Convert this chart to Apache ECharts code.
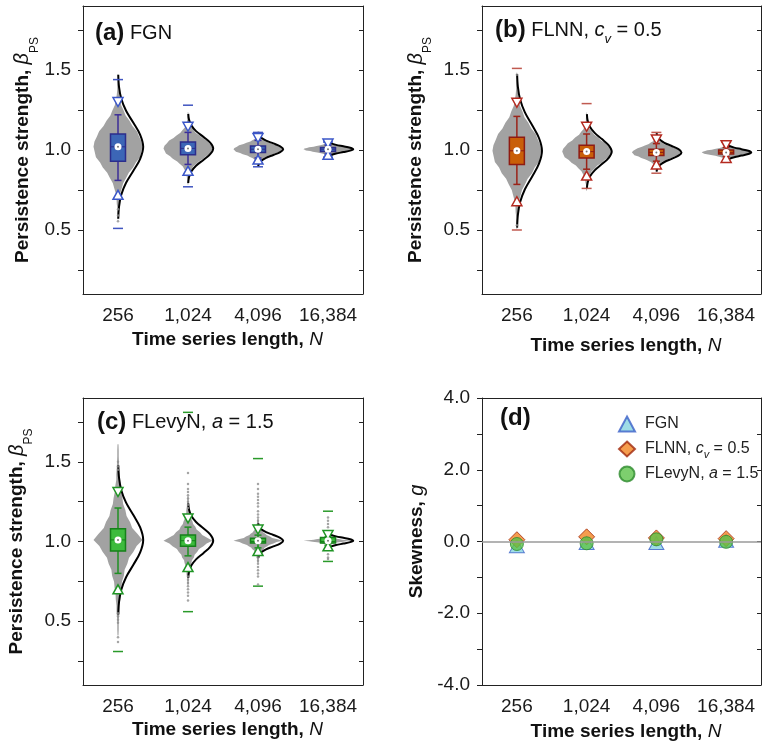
<!DOCTYPE html>
<html>
<head>
<meta charset="utf-8">
<script src="https://cdn.jsdelivr.net/npm/echarts@6/dist/echarts.min.js"></script>
<style>
  html, body { margin: 0; padding: 0; background: #fff; }
  #chart { width: 762px; height: 745px; }
</style>
</head>
<body>
<div id="chart"></div>
<script>
var FONT = "'Liberation Sans', Arial, Helvetica, sans-serif";

var categories = ['256', '1,024', '4,096', '16,384'];

// per length: [min, p1 (up triangle), low whisker, Q1, median, Q3, high whisker, p99 (down triangle), max, mean]
var fgnStats = [
    [0.51, 0.72, 0.81, 0.93, 1.02, 1.10, 1.22, 1.30, 1.44, 1.02],
    [0.77, 0.87, 0.91, 0.97, 1.01, 1.05, 1.11, 1.145, 1.28, 1.01],
    [0.895, 0.94, 0.95, 0.985, 1.005, 1.025, 1.06, 1.075, 1.11, 1.005],
    [0.955, 0.97, 0.975, 0.99, 1.005, 1.015, 1.03, 1.04, 1.05, 1.005]
];
var flnnStats = [
    [0.50, 0.68, 0.785, 0.91, 0.995, 1.08, 1.21, 1.295, 1.51, 0.995],
    [0.76, 0.84, 0.88, 0.95, 0.99, 1.03, 1.10, 1.145, 1.29, 0.99],
    [0.855, 0.91, 0.93, 0.965, 0.985, 1.005, 1.04, 1.065, 1.11, 0.985],
    [0.925, 0.95, 0.96, 0.975, 0.985, 1.0, 1.015, 1.03, 1.05, 0.985]
];
var flevyStats = [
    [0.31, 0.70, 0.80, 0.94, 1.01, 1.08, 1.21, 1.31, null, 1.01],
    [0.56, 0.84, 0.91, 0.97, 1.005, 1.04, 1.09, 1.145, 1.81, 1.005],
    [0.72, 0.94, 0.96, 0.99, 1.0, 1.02, 1.04, 1.075, 1.52, 1.005],
    [0.875, 0.97, 0.975, 0.99, 1.0, 1.025, 1.03, 1.04, 1.19, 1.005]
];

// spread of the grey histogram and sd of the fitted normal curve
var fgnHistSpread = [0.13, 0.065, 0.032, 0.016];
var fgnCurveSd = [0.15, 0.072, 0.036, 0.018];
var flnnHistSpread = [0.14, 0.07, 0.035, 0.017];
var flnnCurveSd = [0.16, 0.078, 0.04, 0.02];
var flevyHistSpread = [0.15, 0.07, 0.035, 0.012];
var flevyCurveSd = [0.156, 0.078, 0.036, 0.018];

// relative half widths, quarter spread steps
var normalHistShape = [0.01, 0.03, 0.02, 0.05, 0.06, 0.09, 0.15, 0.21, 0.33, 0.44, 0.62, 0.73, 0.90, 0.95, 1.00,
    0.96, 0.86, 0.77, 0.59, 0.47, 0.31, 0.23, 0.13, 0.09, 0.05, 0.03, 0.03, 0.01, 0.01];
var levyHistShape = [0.02, 0.03, 0.03, 0.04, 0.06, 0.06, 0.09, 0.10, 0.14, 0.16, 0.24, 0.27, 0.38, 0.45, 0.63, 0.76, 1.00,
    0.80, 0.58, 0.49, 0.35, 0.30, 0.21, 0.18, 0.13, 0.11, 0.07, 0.07, 0.05, 0.04, 0.03, 0.03, 0.02];
// normal curve, half sd steps
var curveShape = [0.01, 0.04, 0.13, 0.32, 0.61, 0.88, 1.00, 0.88, 0.61, 0.32, 0.13, 0.04, 0.01];

// single outlying estimates [length index, value]
var fgnOutliers = [[0, 0.63], [0, 0.59], [0, 0.555]];
var flnnOutliers = [[0, 0.53], [0, 1.47]];
var flevyOutliers = [
    [0, 1.50], [0, 1.47], [0, 1.45], [0, 0.55], [0, 0.53], [0, 0.51], [0, 0.49], [0, 0.40], [0, 0.37],
    [1, 1.43], [1, 1.36], [1, 1.33], [1, 1.31], [1, 1.29], [1, 1.27], [1, 1.25], [1, 1.23], [1, 1.21],
    [1, 0.78], [1, 0.76], [1, 0.74], [1, 0.72], [1, 0.70], [1, 0.68], [1, 0.66], [1, 0.63],
    [2, 1.36], [2, 1.33], [2, 1.30], [2, 1.28], [2, 1.26], [2, 1.24], [2, 1.22], [2, 1.19], [2, 1.17], [2, 1.15], [2, 1.13],
    [2, 0.90], [2, 0.88], [2, 0.86], [2, 0.84], [2, 0.82], [2, 0.80], [2, 0.78], [2, 0.73],
    [3, 1.15], [3, 1.13], [3, 1.11], [3, 1.09], [3, 0.92], [3, 0.90], [3, 0.89]
];

// skewness g
var skewFgn = [-0.13, -0.04, -0.04, 0.02];
var skewFlnn = [0.05, 0.13, 0.10, 0.08];
var skewFlevy = [-0.07, -0.05, 0.06, -0.01];

var betaTicks = [0.25, 0.5, 0.75, 1.0, 1.25, 1.5, 1.75];
var betaLabels = [0.5, 1.0, 1.5];

var fgnLook = { box: '#3c66b6', edge: '#2b2d8c', whisker: '#3b2d96', tri: '#3a56c8', cap: '#4055c0' };
var flnnLook = { box: '#c95f08', edge: '#8e1b12', whisker: '#9a2318', tri: '#b42a20', cap: '#c05a50' };
var flevyLook = { box: '#3dbb3d', edge: '#16801a', whisker: '#1f8f22', tri: '#1f9424', cap: '#2a9a2a' };

function violinData(stats, histSpread, curveSd) {
    return stats.map(function (s, i) {
        return [i].concat(s, [histSpread[i], curveSd[i]]);
    });
}

function violinRenderer(look, histShape) {
    return function (params, api) {
        var cat = api.value(0);
        var mean = api.value(10);
        var band = api.size([1, 0])[0];
        var cx = api.coord([cat, mean])[0];
        function py(v) { return api.coord([cat, v])[1]; }
        function hline(y, half, color, w) {
            return { type: 'line', shape: { x1: cx - half, y1: y, x2: cx + half, y2: y }, style: { stroke: color, lineWidth: w } };
        }
        var kids = [];

        var hs = api.value(11);
        var mid = (histShape.length - 1) / 2;
        var lhs = [], rhs = [];
        for (var i = 0; i < histShape.length; i++) {
            var yy = py(mean + (i - mid) * 0.25 * hs);
            var hw = histShape[i] * 0.35 * band;
            lhs.push([cx - hw, yy]);
            rhs.unshift([cx + hw, yy]);
        }
        kids.push({ type: 'polygon', shape: { points: lhs.concat(rhs) }, style: { fill: '#a2a2a2' } });

        var sd = api.value(12);
        var cmid = (curveShape.length - 1) / 2;
        var pts = [];
        for (var j = 0; j < curveShape.length; j++) {
            pts.push([cx + curveShape[j] * 0.36 * band, py(mean + (j - cmid) * 0.5 * sd)]);
        }
        kids.push({ type: 'polyline', shape: { points: pts, smooth: 0.35 }, style: { stroke: '#000', lineWidth: 2, fill: null } });

        var yP1 = py(api.value(2)), yWl = py(api.value(3)), yQ1 = py(api.value(4)), yMed = py(api.value(5));
        var yQ3 = py(api.value(6)), yWh = py(api.value(7)), yP99 = py(api.value(8)), yMean = py(mean);

        [api.value(1), api.value(9)].forEach(function (v) {
            if (isFinite(v)) kids.push(hline(py(v), 5, look.cap, 1.5));
        });
        kids.push({ type: 'line', shape: { x1: cx, y1: yQ3, x2: cx, y2: yWh }, style: { stroke: look.whisker, lineWidth: 1.5 } });
        kids.push({ type: 'line', shape: { x1: cx, y1: yQ1, x2: cx, y2: yWl }, style: { stroke: look.whisker, lineWidth: 1.5 } });
        kids.push(hline(yWh, 3.5, look.whisker, 1.5));
        kids.push(hline(yWl, 3.5, look.whisker, 1.5));
        kids.push({ type: 'rect', shape: { x: cx - 7.5, y: yQ3, width: 15, height: yQ1 - yQ3 },
            style: { fill: look.box, stroke: look.edge, lineWidth: 1.5 } });
        kids.push(hline(yMed, 7.5, look.edge, 1));
        kids.push({ type: 'polygon', shape: { points: [[cx - 5, yP99 - 4.5], [cx + 5, yP99 - 4.5], [cx, yP99 + 4.5]] },
            style: { fill: '#fff', stroke: look.tri, lineWidth: 1.5 } });
        kids.push({ type: 'polygon', shape: { points: [[cx - 5, yP1 + 4.5], [cx + 5, yP1 + 4.5], [cx, yP1 - 4.5]] },
            style: { fill: '#fff', stroke: look.tri, lineWidth: 1.5 } });
        kids.push({ type: 'circle', shape: { cx: cx, cy: yMean, r: 3.5 }, style: { fill: '#fff' } });
        kids.push({ type: 'circle', shape: { cx: cx, cy: yMean, r: 1 }, style: { fill: '#777' } });
        return { type: 'group', children: kids };
    };
}

var grids = [
    { left: 83, top: 6, width: 280, height: 288 },
    { left: 482, top: 6, width: 279, height: 288 },
    { left: 83, top: 398, width: 280, height: 287 },
    { left: 482, top: 398, width: 279, height: 287 }
];
var xNameGaps = [35, 41, 34, 36];
var yNameGaps = [41, 48, 48, 47];

var lineStyle = { color: '#222', width: 1 };
var xNameRich = {
    b: { fontSize: 19, fontWeight: 'bold', fontFamily: FONT, color: '#111', lineHeight: 22 },
    i: { fontSize: 19, fontStyle: 'italic', fontWeight: 'normal', fontFamily: FONT, color: '#111', lineHeight: 22 }
};
var yNameRich = {
    b: { fontSize: 19, fontWeight: 'bold', fontFamily: FONT, color: '#111', lineHeight: 36 },
    g: { fontSize: 20, fontStyle: 'italic', fontWeight: 'normal', fontFamily: FONT, color: '#111', lineHeight: 36 },
    s: { fontSize: 12, fontWeight: 'normal', fontFamily: FONT, color: '#111', lineHeight: 12, verticalAlign: 'bottom' }
};

var xAxes = [], yAxes = [];
grids.forEach(function (g, i) {
    xAxes.push({
        type: 'category', gridIndex: i, data: categories, position: 'bottom',
        axisLine: { onZero: false, lineStyle: lineStyle },
        axisTick: { alignWithLabel: true, length: 5, lineStyle: lineStyle },
        axisLabel: { interval: 0, margin: 12, fontSize: 19, color: '#1a1a1a', fontFamily: FONT },
        name: '{b|Time series length, }{i|N}', nameLocation: 'middle', nameGap: xNameGaps[i],
        nameTextStyle: { rich: xNameRich, padding: [0, 0, 0, 9] }
    });
    xAxes.push({
        type: 'category', gridIndex: i, data: categories, position: 'top',
        axisLine: { onZero: false, lineStyle: lineStyle },
        axisTick: { alignWithLabel: true, inside: true, length: 4, lineStyle: lineStyle },
        axisLabel: { show: false }
    });
    var isSkew = i === 3;
    var left = {
        type: 'value', gridIndex: i, position: 'left',
        axisLine: { show: true, onZero: false, lineStyle: lineStyle },
        splitLine: { show: false },
        nameLocation: 'middle', nameRotate: 90, nameGap: yNameGaps[i],
        nameTextStyle: { rich: yNameRich }
    };
    var right = {
        type: 'value', gridIndex: i, position: 'right',
        axisLine: { show: true, onZero: false, lineStyle: lineStyle },
        axisLabel: { show: false }, splitLine: { show: false }
    };
    if (isSkew) {
        left.min = right.min = -4;
        left.max = right.max = 4;
        left.interval = right.interval = 1;
        left.axisTick = { show: true, length: 5, lineStyle: lineStyle };
        right.axisTick = { show: true, inside: true, length: 4, lineStyle: lineStyle };
        left.axisLabel = {
            margin: 12, fontSize: 19, color: '#1a1a1a', fontFamily: FONT,
            formatter: function (v) { return v % 2 === 0 ? v.toFixed(1) : ''; }
        };
        left.name = '{b|Skewness, }{g|g}';
    } else {
        left.min = right.min = 0.1;
        left.max = right.max = 1.9;
        left.axisTick = { show: true, length: 5, lineStyle: lineStyle, customValues: betaTicks };
        right.axisTick = { show: true, inside: true, length: 4, lineStyle: lineStyle, customValues: betaTicks };
        left.axisLabel = {
            margin: 12, fontSize: 19, color: '#1a1a1a', fontFamily: FONT, customValues: betaLabels,
            formatter: function (v) { return v.toFixed(1); }
        };
        left.name = '{b|Persistence strength, }{g|β}{s|PS}';
    }
    yAxes.push(left, right);
});

var titleRich = {
    p: { fontSize: 24, fontWeight: 'bold', fontFamily: FONT, color: '#111', lineHeight: 32 },
    t: { fontSize: 20, fontWeight: 'normal', fontFamily: FONT, color: '#111', lineHeight: 32 },
    i: { fontSize: 20, fontStyle: 'italic', fontWeight: 'normal', fontFamily: FONT, color: '#111', lineHeight: 32 },
    s: { fontSize: 13, fontStyle: 'italic', fontWeight: 'normal', fontFamily: FONT, color: '#111', lineHeight: 12, verticalAlign: 'bottom' }
};
function panelTitle(text, left, top) {
    return { text: text, left: left, top: top, padding: 0, textStyle: { fontWeight: 'normal', rich: titleRich } };
}

var legendRich = {
    t: { fontSize: 16, fontFamily: FONT, color: '#222', lineHeight: 22 },
    i: { fontSize: 16, fontStyle: 'italic', fontFamily: FONT, color: '#222', lineHeight: 22 },
    s: { fontSize: 11, fontStyle: 'italic', fontFamily: FONT, color: '#222', lineHeight: 12, verticalAlign: 'bottom' }
};
var legendText = {
    FGN: '{t|FGN}',
    FLNN: '{t|FLNN, }{i|c}{s|v}{t| = 0.5}',
    FLevyN: '{t|FLevyN, }{i|a}{t| = 1.5}'
};

function pairs(values) {
    return values.map(function (v, i) { return [i, v]; });
}

function outlierSeries(data, axis) {
    return {
        type: 'scatter', xAxisIndex: axis, yAxisIndex: axis, data: data,
        symbolSize: 2.5, itemStyle: { color: '#8e8e8e' }, silent: true
    };
}
function violinSeries(stats, hs, sd, look, shape, axis) {
    return {
        type: 'custom', xAxisIndex: axis, yAxisIndex: axis, silent: true,
        data: violinData(stats, hs, sd), encode: { x: 0, y: 10 },
        renderItem: violinRenderer(look, shape)
    };
}

var chart = echarts.init(document.getElementById('chart'));
chart.setOption({
    animation: false,
    backgroundColor: '#fff',
    textStyle: { fontFamily: FONT },
    title: [
        panelTitle('{p|(a)}{t| FGN}', 95, 17),
        panelTitle('{p|(b)}{t| FLNN, }{i|c}{s|v}{t| = 0.5}', 495, 14),
        panelTitle('{p|(c)}{t| FLevyN, }{i|a}{t| = 1.5}', 97, 406),
        panelTitle('{p|(d)}', 500, 402)
    ],
    legend: {
        orient: 'vertical', left: 613, top: 408, itemWidth: 16, itemHeight: 15, itemGap: 3,
        data: ['FGN', 'FLNN', 'FLevyN'],
        formatter: function (n) { return legendText[n]; },
        textStyle: { fontSize: 16, lineHeight: 22, fontFamily: FONT, color: '#222', rich: legendRich, padding: [0, 0, 0, 5] }
    },
    grid: grids,
    xAxis: xAxes,
    yAxis: yAxes,
    series: [
        outlierSeries(fgnOutliers, 0),
        violinSeries(fgnStats, fgnHistSpread, fgnCurveSd, fgnLook, normalHistShape, 0),
        outlierSeries(flnnOutliers, 2),
        violinSeries(flnnStats, flnnHistSpread, flnnCurveSd, flnnLook, normalHistShape, 2),
        outlierSeries(flevyOutliers, 4),
        violinSeries(flevyStats, flevyHistSpread, flevyCurveSd, flevyLook, levyHistShape, 4),
        {
            name: 'FGN', type: 'scatter', xAxisIndex: 6, yAxisIndex: 6, data: pairs(skewFgn),
            symbol: 'triangle', symbolSize: [15, 13],
            itemStyle: { color: '#86d3e0', borderColor: '#3a5fc8', borderWidth: 1 },
            markLine: {
                silent: true, symbol: 'none', label: { show: false },
                lineStyle: { color: '#9a9a9a', width: 1.5, type: 'solid' },
                data: [{ yAxis: 0 }]
            }
        },
        {
            name: 'FLNN', type: 'scatter', xAxisIndex: 6, yAxisIndex: 6, data: pairs(skewFlnn),
            symbol: 'diamond', symbolSize: 16,
            itemStyle: { color: '#f28522', borderColor: '#a0290f', borderWidth: 1 }
        },
        {
            name: 'FLevyN', type: 'scatter', xAxisIndex: 6, yAxisIndex: 6, data: pairs(skewFlevy),
            symbol: 'circle', symbolSize: 13,
            itemStyle: { color: '#5cc34a', borderColor: '#2e8b2e', borderWidth: 1 }
        }
    ]
});
</script>
</body>
</html>
